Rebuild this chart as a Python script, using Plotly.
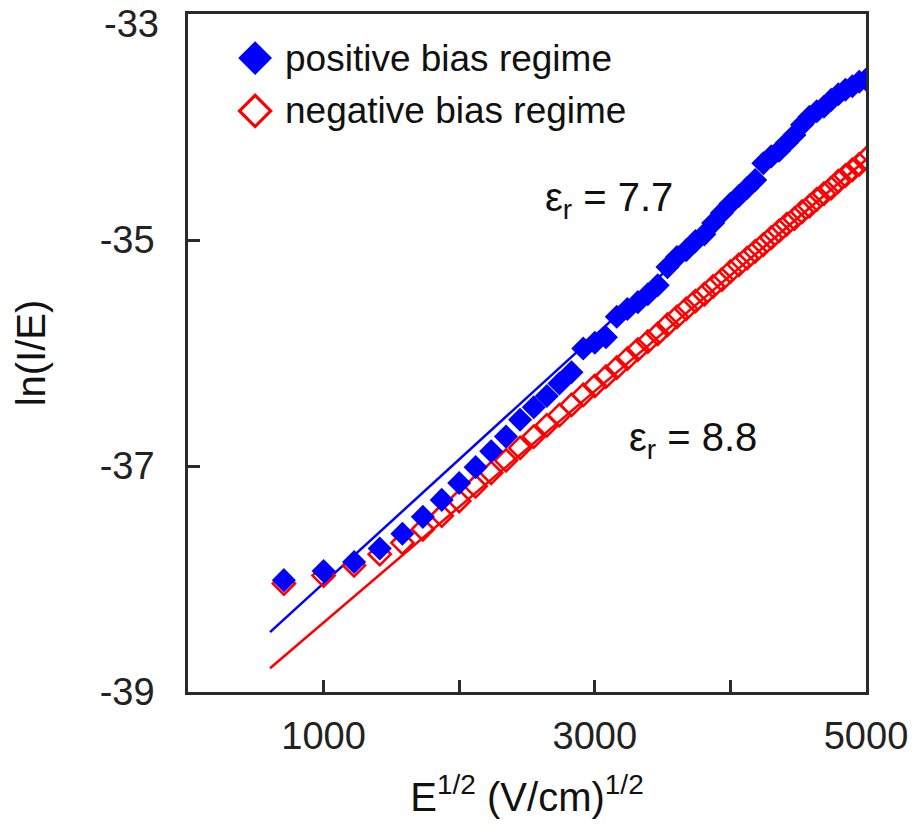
import plotly.graph_objects as go

# ---- data ----
x_vals = [707, 1000, 1225, 1414, 1581, 1732, 1871, 2000, 2121, 2236,
          2345, 2449, 2550, 2646, 2739, 2828, 2915, 3000, 3082, 3162,
          3240, 3317, 3391, 3464, 3536, 3606, 3674, 3742, 3808, 3873,
          3937, 4000, 4062, 4123, 4183, 4243, 4301, 4359, 4416, 4472,
          4528, 4583, 4637, 4690, 4743, 4796, 4848, 4899, 4950, 5000]

positive_bias = [-38.01, -37.93, -37.85, -37.73, -37.60, -37.45, -37.30, -37.15, -37.01, -36.87,
                 -36.74, -36.59, -36.48, -36.38, -36.27, -36.17, -35.96, -35.91, -35.86, -35.68,
                 -35.61, -35.55, -35.48, -35.40, -35.24, -35.15, -35.09, -35.01, -34.95, -34.85,
                 -34.76, -34.68, -34.61, -34.54, -34.47, -34.32, -34.26, -34.21, -34.14, -34.07,
                 -33.98, -33.91, -33.86, -33.82, -33.76, -33.71, -33.67, -33.64, -33.60, -33.58]

negative_bias = [-38.04, -37.97, -37.88, -37.78, -37.68, -37.56, -37.44, -37.31, -37.18, -37.06,
                 -36.95, -36.84, -36.74, -36.64, -36.55, -36.46, -36.37, -36.29, -36.21, -36.13,
                 -36.05, -35.97, -35.90, -35.83, -35.75, -35.68, -35.61, -35.54, -35.48, -35.41,
                 -35.35, -35.28, -35.22, -35.16, -35.10, -35.04, -34.98, -34.92, -34.86, -34.81,
                 -34.75, -34.70, -34.64, -34.59, -34.54, -34.48, -34.43, -34.38, -34.33, -34.28]

fit_positive_x = [605, 3800]
fit_positive = [-38.47, -34.97]
fit_negative_x = [605, 5000]
fit_negative = [-38.79, -34.29]

x_tickvals = [1000, 2000, 3000, 4000, 5000]
x_ticktext = ["1000", "", "3000", "", "5000"]
y_tickvals = [-39, -37, -35, -33]
y_ticktext = ["-39", "-37", "-35", ""]   # top label drawn separately, nudged down like the reference
y_top_label = "-33"

legend_names = ["positive bias regime", "negative bias regime"]
annotation_texts = ["ε<sub>r</sub> = 7.7", "ε<sub>r</sub> = 8.8"]

BLUE = "#0000ff"
RED = "#ff0000"
AXC = "#2a2a2a"
FONT = "Liberation Sans, Arial, sans-serif"

fig = go.Figure()

fig.add_trace(go.Scatter(x=fit_negative_x, y=fit_negative, mode="lines",
                         line=dict(color=RED, width=2.5), showlegend=False))
fig.add_trace(go.Scatter(x=fit_positive_x, y=fit_positive, mode="lines",
                         line=dict(color=BLUE, width=2.5), showlegend=False))
fig.add_trace(go.Scatter(x=x_vals, y=negative_bias, mode="markers", name=legend_names[1],
                         marker=dict(symbol="diamond-open", size=17, color=RED,
                                     line=dict(color=RED, width=2.6)),
                         showlegend=False))
fig.add_trace(go.Scatter(x=x_vals, y=positive_bias, mode="markers", name=legend_names[0],
                         marker=dict(symbol="diamond", size=18.5, color=BLUE,
                                     line=dict(width=0)),
                         showlegend=False))

# custom legend drawn on an overlay axis spanning the plot area (0..1)
fig.add_trace(go.Scatter(x=[0.099], y=[0.935], mode="markers", xaxis="x2", yaxis="y2",
                         marker=dict(symbol="diamond", size=26, color=BLUE, line=dict(width=0)),
                         showlegend=False, hoverinfo="skip"))
fig.add_trace(go.Scatter(x=[0.099], y=[0.857], mode="markers", xaxis="x2", yaxis="y2",
                         marker=dict(symbol="diamond-open", size=24, color=RED,
                                     line=dict(color=RED, width=3.2)),
                         showlegend=False, hoverinfo="skip"))

annotations = [
    dict(text=legend_names[0], x=0.140, y=0.935, xref="paper", yref="paper",
         xanchor="left", yanchor="middle", showarrow=False, font=dict(size=37)),
    dict(text=legend_names[1], x=0.140, y=0.857, xref="paper", yref="paper",
         xanchor="left", yanchor="middle", showarrow=False, font=dict(size=37)),
    dict(text=annotation_texts[0], x=0.523, y=0.726, xref="paper", yref="paper",
         xanchor="left", yanchor="middle", showarrow=False, font=dict(size=40)),
    dict(text=annotation_texts[1], x=0.648, y=0.371, xref="paper", yref="paper",
         xanchor="left", yanchor="middle", showarrow=False, font=dict(size=40)),
    dict(text=y_top_label, x=0, y=1, xref="paper", yref="paper",
         xanchor="right", yanchor="top", xshift=-27, yshift=13, showarrow=False,
         font=dict(size=38, color="#222")),
]

axis_common = dict(showline=True, linecolor=AXC, linewidth=2.5, mirror=True,
                   ticks="inside", ticklen=12, tickwidth=2.5, tickcolor=AXC,
                   showgrid=False, zeroline=False, automargin=False,
                   ticklabeloverflow="allow", tickfont=dict(size=38, color="#222"))

fig.update_layout(
    width=921, height=832,
    margin=dict(l=188, r=55, t=14, b=140),
    plot_bgcolor="white", paper_bgcolor="white",
    font=dict(family=FONT, color="#111", size=38),
    showlegend=False,
    xaxis=dict(range=[0, 5000], tickvals=x_tickvals, ticktext=x_ticktext,
               ticklabelstandoff=9,
               title=dict(text="E<sup>1/2</sup> (V/cm)<sup>1/2</sup>", font=dict(size=40), standoff=27),
               **axis_common),
    yaxis=dict(range=[-39, -33], tickvals=y_tickvals, ticktext=y_ticktext,
               ticklabelstandoff=23,
               title=dict(text="ln(I/E)", font=dict(size=40), standoff=42),
               **axis_common),
    xaxis2=dict(range=[0, 1], overlaying="x", visible=False, fixedrange=True),
    yaxis2=dict(range=[0, 1], overlaying="y", visible=False, fixedrange=True),
    annotations=annotations,
)

fig.write_html("out.html", config={"displayModeBar": False},
               post_script="document.body.style.margin='0';")
